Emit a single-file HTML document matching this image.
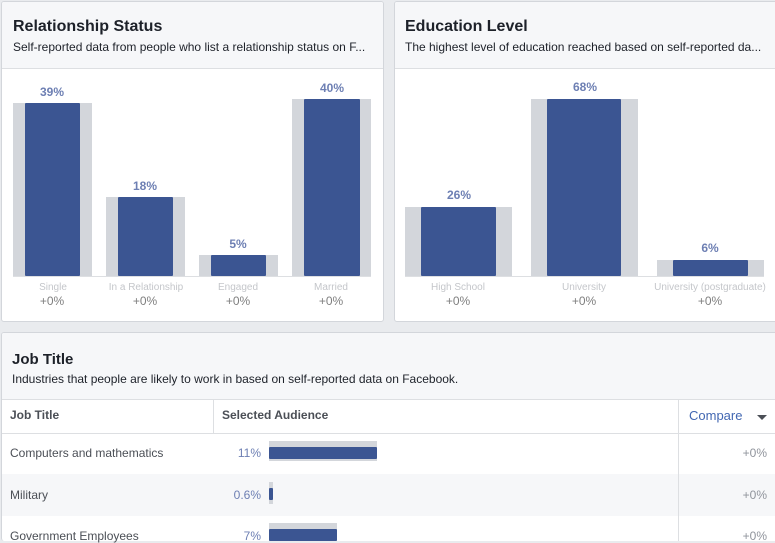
<!DOCTYPE html>
<html><head><meta charset="utf-8"><style>
*{margin:0;padding:0;box-sizing:border-box}
body{width:775px;height:541px;background:#e9ebee;font-family:"Liberation Sans",sans-serif;position:relative;overflow:hidden}
.p{position:absolute;background:#fff;border:1px solid #d3d6db;border-radius:3px;overflow:hidden}
.hd{position:absolute;left:0;right:0;top:0;background:#f6f7f9;border-bottom:1px solid #dddfe2}
.t{position:absolute;font-weight:bold;font-size:16px;color:#1d2129}
.s{position:absolute;font-size:12px;color:#1d2129;white-space:nowrap}
.a{position:absolute}
.g{background:#d3d6db}
.b{background:#3b5592;border-radius:1px}
.pc{position:absolute;font-size:12px;font-weight:bold;color:#6d7fb3;text-align:center;width:80px}
.cl{position:absolute;font-size:10px;color:#c4c6ca;text-align:center;width:120px}
.z{position:absolute;font-size:12px;color:#7f7f7f;text-align:center;width:80px}
.ax{position:absolute;height:1px;background:#dddfe2}
.tr{position:absolute;font-size:12px;color:#4b4f56}
</style></head><body>
<div class="p" style="left:1px;top:1px;width:383px;height:321px">
 <div class="hd" style="height:67px"></div>
 <div class="t" style="left:11px;top:16px">Relationship Status</div>
 <div class="s" style="left:11px;top:38px">Self-reported data from people who list a relationship status on F...</div>
</div>
<div class="p" style="left:394px;top:1px;width:385px;height:321px">
 <div class="hd" style="height:67px"></div>
 <div class="t" style="left:10px;top:16px">Education Level</div>
 <div class="s" style="left:10px;top:38px">The highest level of education reached based on self-reported da...</div>
</div>
<div class="a g" style="left:13px;top:103px;width:79px;height:173px"></div><div class="a b" style="left:25px;top:103px;width:55px;height:173px"></div>
<div class="a g" style="left:106px;top:197px;width:79px;height:79px"></div><div class="a b" style="left:118px;top:197px;width:55px;height:79px"></div>
<div class="a g" style="left:199px;top:255px;width:79px;height:21px"></div><div class="a b" style="left:211px;top:255px;width:55px;height:21px"></div>
<div class="a g" style="left:292px;top:99px;width:79px;height:177px"></div><div class="a b" style="left:304px;top:99px;width:56px;height:177px"></div>
<div class="ax" style="left:13px;top:276px;width:358px"></div>
<div class="pc" style="left:12px;top:85px">39%</div><div class="pc" style="left:105px;top:179px">18%</div>
<div class="pc" style="left:198px;top:237px">5%</div><div class="pc" style="left:292px;top:81px">40%</div>
<div class="cl" style="left:-7px;top:282px">Single</div><div class="cl" style="left:86px;top:282px">In a Relationship</div>
<div class="cl" style="left:178px;top:282px">Engaged</div><div class="cl" style="left:271px;top:282px">Married</div>
<div class="z" style="left:12px;top:294px">+0%</div><div class="z" style="left:105px;top:294px">+0%</div>
<div class="z" style="left:198px;top:294px">+0%</div><div class="z" style="left:291px;top:294px">+0%</div>
<div class="a g" style="left:405px;top:207px;width:107px;height:69px"></div><div class="a b" style="left:421px;top:207px;width:75px;height:69px"></div>
<div class="a g" style="left:531px;top:99px;width:107px;height:177px"></div><div class="a b" style="left:547px;top:99px;width:74px;height:177px"></div>
<div class="a g" style="left:657px;top:260px;width:107px;height:16px"></div><div class="a b" style="left:673px;top:260px;width:75px;height:16px"></div>
<div class="ax" style="left:405px;top:276px;width:359px"></div>
<div class="pc" style="left:419px;top:188px">26%</div><div class="pc" style="left:545px;top:80px">68%</div><div class="pc" style="left:670px;top:241px">6%</div>
<div class="cl" style="left:398px;top:282px">High School</div><div class="cl" style="left:524px;top:282px">University</div><div class="cl" style="left:650px;top:282px">University (postgraduate)</div>
<div class="z" style="left:418px;top:294px">+0%</div><div class="z" style="left:544px;top:294px">+0%</div><div class="z" style="left:670px;top:294px">+0%</div>
<div class="p" style="left:1px;top:332px;width:780px;height:209px;border-bottom:none">
 <div class="hd" style="height:67px"></div>
 <div class="t" style="left:10px;top:18px;font-size:15px">Job Title</div>
 <div class="s" style="left:10px;top:39px">Industries that people are likely to work in based on self-reported data on Facebook.</div>
 <div class="a" style="left:0;right:0;top:100px;height:1px;background:#dddfe2"></div>
 <div class="a" style="left:0;right:0;top:141px;height:42px;background:#f6f7f9"></div>
 <div class="a" style="left:211px;top:67px;width:1px;height:33px;background:#dddfe2"></div>
 <div class="a" style="left:676px;top:67px;width:1px;height:200px;background:#dddfe2"></div>
</div>
<div class="tr" style="left:10px;top:408px;font-weight:bold;color:#4b4f56">Job Title</div>
<div class="tr" style="left:222px;top:408px;font-weight:bold;color:#4b4f56">Selected Audience</div>
<div class="tr" style="left:689px;top:408px;color:#4267b2;font-size:13px">Compare</div>
<div class="a" style="left:757px;top:415px;border-left:5px solid transparent;border-right:5px solid transparent;border-top:5px solid #4b4f56"></div>
<div class="tr" style="left:10px;top:446px">Computers and mathematics</div>
<div class="tr" style="left:10px;top:488px">Military</div>
<div class="tr" style="left:10px;top:529px">Government Employees</div>
<div class="tr" style="left:200px;top:446px;width:61px;text-align:right;color:#6d7fb3">11%</div>
<div class="tr" style="left:200px;top:488px;width:61px;text-align:right;color:#6d7fb3">0.6%</div>
<div class="tr" style="left:200px;top:529px;width:61px;text-align:right;color:#6d7fb3">7%</div>
<div class="a g" style="left:269px;top:441px;width:108px;height:20px"></div><div class="a b" style="left:269px;top:447px;width:108px;height:12px"></div>
<div class="a g" style="left:269px;top:482px;width:4px;height:22px"></div><div class="a b" style="left:269px;top:488px;width:4px;height:12px"></div>
<div class="a g" style="left:269px;top:523px;width:68px;height:18px"></div><div class="a b" style="left:269px;top:529px;width:68px;height:12px"></div>
<div class="tr" style="left:700px;top:446px;width:67px;text-align:right;color:#90949c">+0%</div>
<div class="tr" style="left:700px;top:488px;width:67px;text-align:right;color:#90949c">+0%</div>
<div class="tr" style="left:700px;top:529px;width:67px;text-align:right;color:#90949c">+0%</div>
</body></html>
